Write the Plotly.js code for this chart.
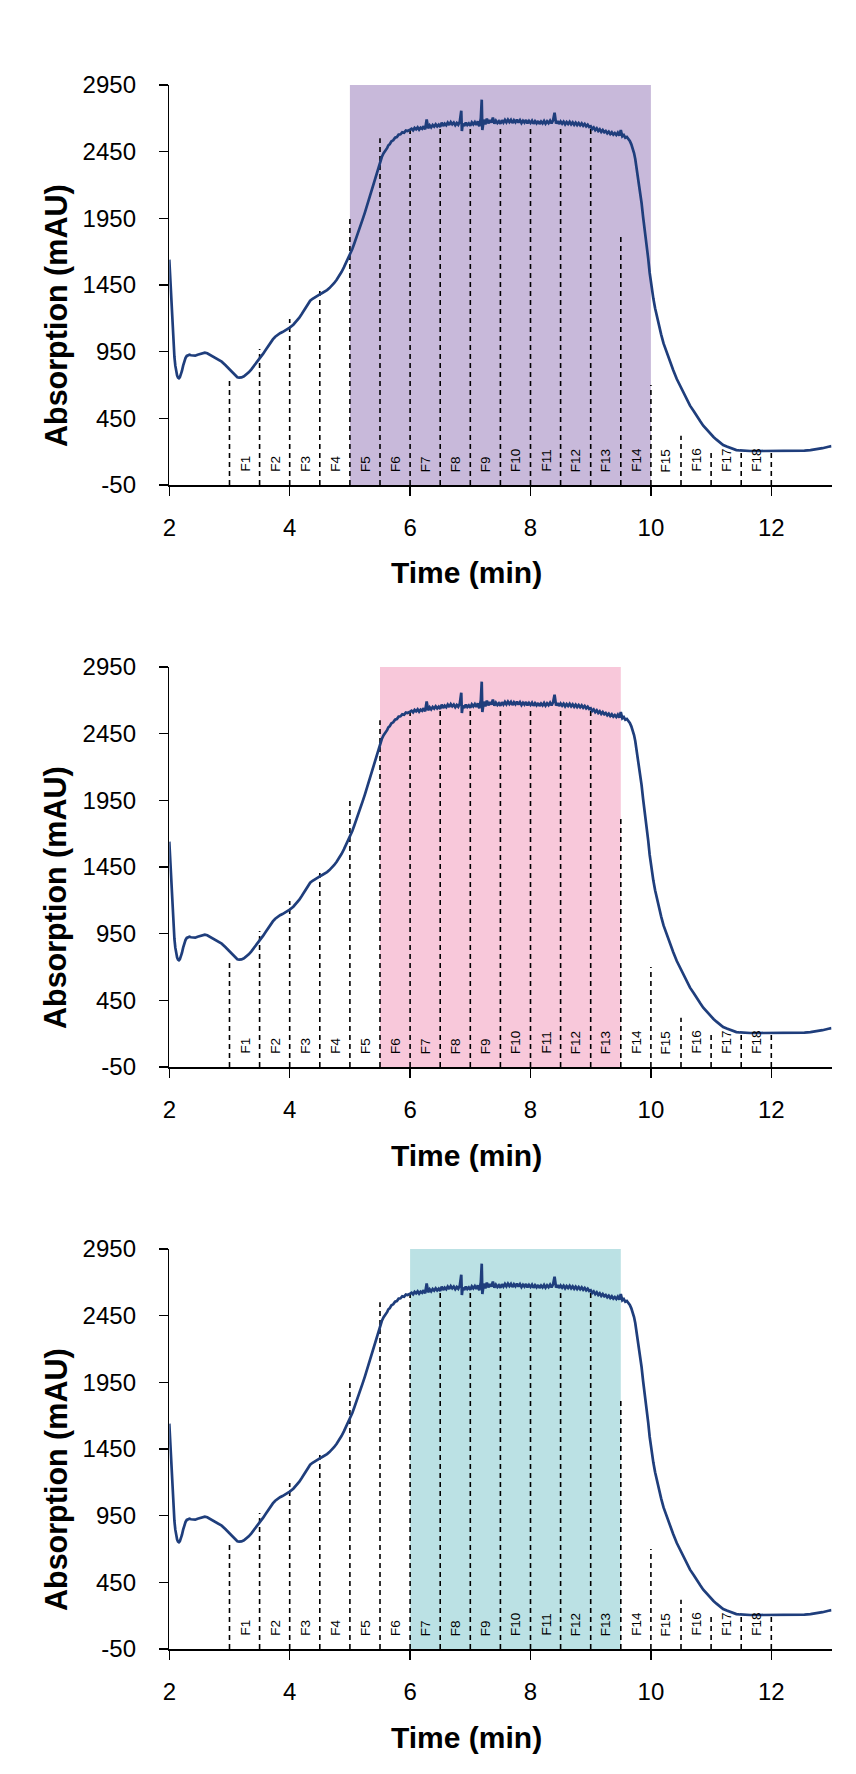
<!DOCTYPE html>
<html><head><meta charset="utf-8">
<script src="https://cdn.plot.ly/plotly-3.0.1.min.js"></script>
<style>html,body{margin:0;padding:0;background:#fff;} #chart{width:856px;height:1774px;}</style>
</head><body><div id="chart"></div>
<script>
// ---- data ----
const time = [2.00,2.01,2.02,2.03,2.04,2.055,2.07,2.085,2.10,2.115,2.13,2.145,2.16,2.175,2.19,2.21,2.23,2.25,2.27,2.29,2.31,2.335,2.36,2.40,2.43,2.47,2.50,2.55,2.59,2.63,2.67,2.72,2.80,2.87,2.93,2.98,3.02,3.06,3.10,3.13,3.16,3.20,3.24,3.28,3.32,3.36,3.42,3.48,3.52,3.56,3.60,3.64,3.68,3.72,3.76,3.80,3.84,3.88,3.92,3.95,
4.00,4.06,4.12,4.16,4.20,4.24,4.28,4.31,4.34,4.38,4.42,4.46,4.50,4.54,4.58,4.62,4.66,4.70,4.74,4.78,4.82,4.86,4.90,4.94,4.97,
5.00,5.04,5.07,5.11,5.14,5.18,5.21,5.25,5.28,5.31,5.34,5.37,5.40,5.43,5.46,5.50,5.53,5.56,5.58,5.60,5.62,5.64,5.66,5.69,5.72,5.75,5.78,5.81,5.84,5.87,5.90,5.93,5.96,
6.000,6.025,6.050,6.075,6.100,6.125,6.150,6.175,6.200,6.225,6.250,6.275,6.300,6.325,6.350,6.375,6.400,6.425,6.450,6.475,6.500,6.525,6.550,6.575,6.600,6.625,6.650,6.675,6.700,6.725,6.750,6.775,6.800,6.825,6.850,6.860,6.875,6.900,6.925,6.950,6.975,
7.000,7.025,7.050,7.075,7.100,7.125,7.150,7.175,7.190,7.200,7.225,7.250,7.275,7.300,7.325,7.350,7.375,7.400,7.425,7.450,7.475,7.500,7.525,7.550,7.575,7.600,7.625,7.650,7.675,7.700,7.725,7.750,7.775,7.800,7.825,7.850,7.875,7.900,7.925,7.950,7.975,
8.000,8.025,8.050,8.075,8.100,8.125,8.150,8.175,8.200,8.225,8.250,8.275,8.300,8.325,8.350,8.375,8.400,8.425,8.450,8.475,8.500,8.525,8.550,8.575,8.600,8.625,8.650,8.675,8.700,8.725,8.750,8.775,8.800,8.825,8.850,8.875,8.900,8.925,8.950,8.975,
9.000,9.025,9.050,9.075,9.100,9.125,9.150,9.175,9.200,9.225,9.250,9.275,9.300,9.325,9.350,9.375,9.400,9.425,9.450,9.475,9.500,9.525,9.550,9.575,9.600,9.625,9.650,9.675,
9.70,9.72,9.74,9.76,9.78,9.80,9.82,9.845,9.87,9.90,9.93,9.955,9.98,10.01,10.04,10.07,10.10,10.13,10.17,10.21,10.26,10.31,10.37,10.43,10.49,10.54,10.60,10.65,10.71,10.76,10.82,10.87,10.93,10.98,11.04,11.09,11.15,11.20,11.26,11.31,11.37,11.42,11.48,11.54,11.65,11.81,12.00,12.20,12.40,12.55,12.65,12.75,12.85,12.95,13.00];

const absorption = [1640,1540,1440,1340,1250,1120,1000,910,845,800,770,755,750,757,775,805,845,878,903,918,925,927,923,918,920,927,932,940,942,938,928,912,895,875,850,825,805,785,768,758,755,757,765,777,795,816,850,882,907,935,962,990,1017,1042,1062,1077,1088,1097,1107,1115,
1130,1152,1180,1205,1232,1262,1293,1315,1332,1347,1360,1370,1380,1390,1400,1412,1427,1445,1465,1490,1517,1547,1582,1618,1645,
1675,1720,1757,1805,1842,1895,1940,1995,2040,2085,2132,2178,2225,2270,2315,2375,2410,2438,2450,2470,2478,2498,2505,2528,2535,2555,2560,2578,2580,2595,2592,2608,2605,
2615,2622,2610,2628,2618,2632,2615,2630,2622,2640,2618,2692,2625,2648,2632,2650,2638,2655,2640,2652,2636,2668,2642,2660,2648,2668,2650,2672,2655,2668,2648,2665,2652,2675,2757,2605,2660,2642,2668,2650,2662,
2645,2670,2655,2672,2650,2678,2640,2700,2840,2612,2690,2655,2698,2662,2688,2668,2705,2660,2682,2665,2678,2660,2685,2668,2688,2670,2690,2672,2688,2665,2685,2670,2690,2668,2686,2665,2682,2668,2688,2662,2680,
2665,2682,2660,2678,2662,2680,2658,2676,2662,2680,2660,2678,2664,2682,2662,2685,2742,2660,2680,2658,2676,2660,2675,2655,2672,2658,2674,2655,2670,2652,2668,2650,2665,2648,2662,2645,2658,2640,2652,2635,
2640,2620,2632,2612,2625,2605,2618,2598,2612,2595,2605,2588,2600,2582,2595,2578,2590,2575,2592,2570,2612,2565,2575,2555,2560,2548,2530,2505,
2475,2440,2395,2337,2270,2215,2162,2065,1962,1862,1762,1650,1540,1437,1350,1275,1212,1150,1080,1012,945,880,812,745,690,637,585,545,505,465,428,395,362,337,310,290,268,250,238,228,218,212,209,207,205,205,205,205,206,208,211,217,226,237,242];

const cutTimes = [3,3.5,4,4.5,5,5.5,6,6.5,7,7.5,8,8.5,9,9.5,10,10.5,11,11.5,12];
const cutTops  = [760,970,1195,1420,1950,2550,2620,2640,2640,2650,2650,2650,2620,1840,700,320,212,212,212];

const fractionLabels = ['F1','F2','F3','F4','F5','F6','F7','F8','F9','F10','F11','F12','F13','F14','F15','F16','F17','F18'];
const fractionTimes  = [3.25,3.75,4.25,4.75,5.25,5.75,6.25,6.75,7.25,7.75,8.25,8.75,9.25,9.75,10.25,10.75,11.25,11.75];

const shadeStart  = [5, 5.5, 6];
const shadeEnd    = [10, 9.5, 9.5];
const shadeColors = ['#C8B9DA', '#F8C8DA', '#BBE1E4'];

const xTicks = [2,4,6,8,10,12];
const yTicks = [-50,450,950,1450,1950,2450,2950];
const yTickText = ['-50','450','950','1450','1950','2450','2950'];
const xRange = [2,13];
const yRange = [-50,2950];
const xTitle = 'Time (min)';
const yTitle = 'Absorption (mAU)';

// ---- layout (pixels) ----
const W = 856, H = 1774;
const plotLeft = 169.3, plotRight = 831.5, plotH = 400;
const tops = [85, 667, 1249];
const FONT = 'Liberation Sans, Arial, sans-serif';
const lineColor = '#1F3E7C';

const layout = {
  width: W, height: H,
  margin: {l:0, r:0, t:0, b:0},
  paper_bgcolor: '#ffffff', plot_bgcolor: 'rgba(0,0,0,0)',
  showlegend: false,
  shapes: [], annotations: [],
  font: {family: FONT, color: '#000'}
};
const traces = [];

tops.forEach((top, i) => {
  const sfx = i === 0 ? '' : String(i + 1);
  const xa = 'x' + sfx, ya = 'y' + sfx;
  const yDom = [1 - (top + plotH) / H, 1 - top / H];
  layout['xaxis' + sfx] = {
    domain: [plotLeft / W, plotRight / W], anchor: ya, range: xRange,
    tickmode: 'array', tickvals: xTicks, ticks: 'outside', ticklen: 9, tickwidth: 1.5, tickcolor: '#000',
    showline: true, linewidth: 1.5, linecolor: '#000', showgrid: false, zeroline: false,
    tickfont: {family: FONT, size: 24, color: '#000'}, ticklabelstandoff: 12, fixedrange: true
  };
  layout['yaxis' + sfx] = {
    domain: yDom, anchor: xa, range: yRange,
    tickmode: 'array', tickvals: yTicks, ticktext: yTickText, ticks: 'outside', ticklen: 9, tickwidth: 1.5, tickcolor: '#000',
    showline: true, linewidth: 1.5, linecolor: '#000', showgrid: false, zeroline: false,
    tickfont: {family: FONT, size: 24, color: '#000'}, ticklabelstandoff: 18, fixedrange: true
  };
  // shaded collection window
  layout.shapes.push({type: 'rect', xref: xa, yref: ya, x0: shadeStart[i], x1: shadeEnd[i],
    y0: yRange[0], y1: yRange[1], fillcolor: shadeColors[i], line: {width: 0}, layer: 'below'});
  // fraction cut lines
  cutTimes.forEach((t, j) => {
    layout.shapes.push({type: 'line', xref: xa, yref: ya, x0: t, x1: t, y0: yRange[0], y1: cutTops[j],
      line: {color: '#000', width: 1.6, dash: '5px,4px'}, layer: 'below'});
  });
  // fraction labels
  fractionLabels.forEach((lab, j) => {
    layout.annotations.push({xref: xa, yref: ya, x: fractionTimes[j], y: yRange[0], text: lab,
      textangle: -90, xanchor: 'center', yanchor: 'bottom', yshift: 11, showarrow: false,
      font: {family: FONT, size: 13.5, color: '#000'}});
  });
  // axis titles
  layout.annotations.push({xref: 'paper', yref: 'paper', x: 56 / W, y: 1 - (top + 231) / H,
    text: '<b>' + yTitle + '</b>', textangle: -90, xanchor: 'center', yanchor: 'middle', showarrow: false,
    font: {family: FONT, size: 30.5, color: '#000'}});
  layout.annotations.push({xref: 'paper', yref: 'paper', x: 466 / W, y: 1 - (top + plotH + 88) / H,
    text: '<b>' + xTitle + '</b>', xanchor: 'center', yanchor: 'middle', showarrow: false,
    font: {family: FONT, size: 30, color: '#000'}});
  traces.push({type: 'scatter', mode: 'lines', x: time, y: absorption, xaxis: xa, yaxis: ya,
    line: {color: lineColor, width: 2.7}, hoverinfo: 'skip'});
});

Plotly.newPlot('chart', traces, layout, {displayModeBar: false, staticPlot: true});
</script>
</body></html>
